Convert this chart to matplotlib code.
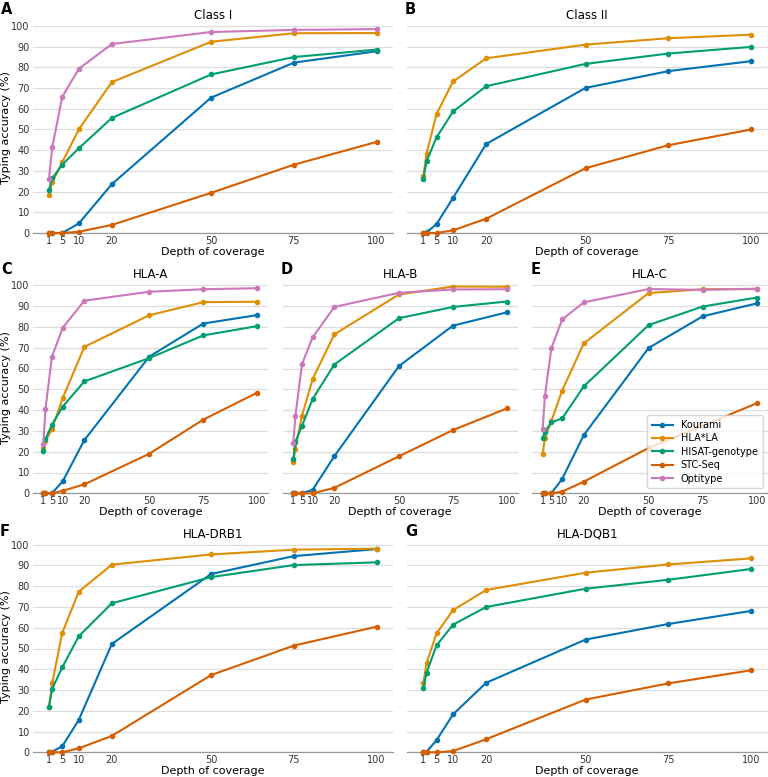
import matplotlib

matplotlib.use("Agg")
import matplotlib.pyplot as plt

DEPTH = [1, 2, 5, 10, 20, 50, 75, 100]
XTICKS = [1, 5, 10, 20, 50, 75, 100]
TOOLS = ["Kourami", "HLA*LA", "HISAT-genotype", "STC-Seq", "Optitype"]
COLORS = ["#0173b2", "#de8f05", "#029e73", "#d55e00", "#cc78bc"]

CLASS_I = {
    "Kourami": [0, 0, 0, 4.6, 23.6, 65.4, 82.3, 87.8],
    "HLA*LA": [18.5, 24.5, 34.1, 50.0, 72.9, 92.4, 96.5, 96.6],
    "HISAT-genotype": [20.9, 26.4, 33.0, 40.9, 55.6, 76.6, 85.0, 88.6],
    "STC-Seq": [0, 0, 0, 0.6, 3.9, 19.4, 33.0, 44.0],
    "Optitype": [26.2, 41.5, 65.8, 79.3, 91.3, 97.1, 98.1, 98.5],
}
CLASS_II = {
    "Kourami": [0, 0.3, 4.3, 17.0, 43.0, 70.1, 78.2, 83.0],
    "HLA*LA": [27.4, 38.4, 57.5, 73.2, 84.4, 91.0, 94.1, 95.8],
    "HISAT-genotype": [26.3, 34.7, 46.2, 58.7, 70.9, 81.7, 86.7, 89.9],
    "STC-Seq": [0, 0, 0, 1.3, 6.9, 31.3, 42.4, 50.0],
}
HLA_A = {
    "Kourami": [0, 0, 0, 5.8, 25.6, 65.7, 81.6, 85.7],
    "HLA*LA": [21.6, 25.0, 30.9, 45.8, 70.4, 85.6, 91.9, 92.1],
    "HISAT-genotype": [20.1, 26.0, 33.0, 41.7, 53.8, 65.0, 75.9, 80.4],
    "STC-Seq": [0, 0, 0, 1.2, 4.3, 19.0, 35.4, 48.4],
    "Optitype": [23.6, 40.5, 65.7, 79.6, 92.6, 96.9, 98.1, 98.6],
}
HLA_B = {
    "Kourami": [0, 0, 0, 1.7, 17.8, 61.2, 80.6, 87.0],
    "HLA*LA": [15.0, 21.4, 37.2, 55.0, 76.4, 95.6, 99.4, 99.3],
    "HISAT-genotype": [16.3, 24.9, 32.3, 45.4, 61.9, 84.2, 89.6, 92.2],
    "STC-Seq": [0, 0, 0, 0, 2.6, 17.8, 30.4, 40.8],
    "Optitype": [24.4, 37.3, 62.0, 75.0, 89.6, 96.4, 98.0, 98.1],
}
HLA_C = {
    "Kourami": [0, 0, 0, 6.9, 28.0, 69.9, 85.1, 91.3],
    "HLA*LA": [18.9, 26.6, 34.7, 49.4, 72.1, 96.3, 98.1, 98.2],
    "HISAT-genotype": [26.7, 29.6, 34.1, 36.0, 51.4, 80.9, 89.8, 94.1],
    "STC-Seq": [0, 0, 0, 0.8, 5.6, 21.8, 32.5, 43.3],
    "Optitype": [31.1, 46.7, 69.7, 83.6, 91.8, 98.2, 97.8, 98.4],
}
HLA_DRB1 = {
    "Kourami": [0, 0.3, 2.9, 15.6, 52.2, 85.9, 94.5, 97.9],
    "HLA*LA": [22.0, 33.5, 57.5, 77.4, 90.4, 95.3, 97.6, 98.1],
    "HISAT-genotype": [22.0, 30.7, 40.9, 55.9, 71.8, 84.4, 90.2, 91.5],
    "STC-Seq": [0, 0, 0, 1.9, 7.9, 37.2, 51.4, 60.5],
}
HLA_DQB1 = {
    "Kourami": [0, 0.3, 5.8, 18.3, 33.5, 54.3, 61.8, 68.1],
    "HLA*LA": [33.4, 43.0, 57.3, 68.5, 78.2, 86.5, 90.5, 93.4],
    "HISAT-genotype": [30.8, 38.4, 51.5, 61.5, 70.0, 78.8, 83.1, 88.3],
    "STC-Seq": [0, 0, 0, 0.6, 6.3, 25.4, 33.2, 39.5],
}

W, H = 768, 777
YTOP = 102

# (letter, title, data, left px, right px, bottom px, top px, show y labels,
#  letter x px, letter y px)
PANELS = [
    ("A", "Class I", CLASS_I, 32.6, 393.0, 233.0, 233.0 - 2.07 * YTOP, True, 1, 9),
    ("B", "Class II", CLASS_II, 406.9, 767.5, 233.0, 233.0 - 2.07 * YTOP, False, 405, 9),
    ("C", "HLA-A", HLA_A, 32.6, 268.0, 493.3, 493.3 - 2.08 * YTOP, True, 1, 270),
    ("D", "HLA-B", HLA_B, 282.6, 517.6, 493.3, 493.3 - 2.08 * YTOP, False, 281, 269),
    ("E", "HLA-C", HLA_C, 532.0, 767.5, 493.3, 493.3 - 2.08 * YTOP, False, 531, 270),
    ("F", "HLA-DRB1", HLA_DRB1, 32.6, 393.0, 752.3, 752.3 - 2.076 * YTOP, True, 0, 532),
    ("G", "HLA-DQB1", HLA_DQB1, 406.9, 767.5, 752.3, 752.3 - 2.076 * YTOP, False, 405, 532),
]


def main():
    plt.rcParams["font.family"] = "DejaVu Sans"
    fig = plt.figure(figsize=(W / 100, H / 100), dpi=100)
    for letter, title, data, l, r, b, t, ylab, lx, ly in PANELS:
        ax = fig.add_axes([l / W, 1 - b / H, (r - l) / W, (b - t) / H])
        for tool, color in zip(TOOLS, COLORS):
            if tool not in data:
                continue
            ax.plot(DEPTH, data[tool], color=color, lw=1.5, marker="o",
                    ms=3, label=tool, clip_on=False, zorder=3)
        ax.set_xlim(1 - 4.95, 100 + 4.95)
        ax.set_ylim(0, YTOP)
        ax.set_xticks(XTICKS)
        ax.set_yticks(range(0, 101, 10))
        ax.grid(axis="y", color="#dddddd", lw=0.9)
        ax.set_axisbelow(True)
        for side in ("left", "right", "top"):
            ax.spines[side].set_visible(False)
        ax.spines["bottom"].set_color("#999999")
        ax.spines["bottom"].set_linewidth(0.9)
        ax.tick_params(axis="both", length=0, labelsize=7, colors="#333333", pad=2)
        if ylab:
            ax.set_ylabel("Typing accuracy (%)", fontsize=8)
            ax.yaxis.set_label_coords(11.5 / W, 1 - (b + t) / 2 / H,
                                      transform=fig.transFigure)
        else:
            ax.set_yticklabels([])
        ax.set_xlabel("Depth of coverage", fontsize=8, labelpad=1)
        ax.set_title(title, fontsize=8.5, pad=0.5)
        fig.text(lx / W, 1 - ly / H, letter, fontsize=10.5, fontweight="bold",
                 ha="left", va="center")
        if letter == "E":
            ax.legend(loc="lower right", fontsize=7, frameon=True,
                      edgecolor="#cccccc", fancybox=True, borderpad=0.5,
                      handlelength=2.2, labelspacing=0.35)
    fig.savefig("out.png", dpi=100)


if __name__ == "__main__":
    main()
